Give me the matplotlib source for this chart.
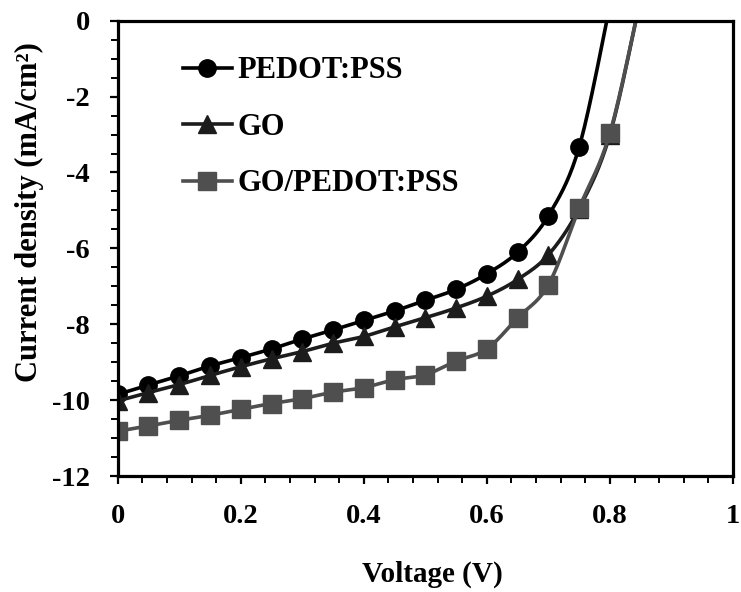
import numpy as np
import matplotlib
matplotlib.use("Agg")
import matplotlib.pyplot as plt
from matplotlib.ticker import MultipleLocator, FixedLocator

plt.rcParams['font.family'] = ['Liberation Serif', 'DejaVu Serif']
plt.rcParams['font.weight'] = 'bold'

# Voltage (V) and current density (mA/cm2)
v_pedot = [0, 0.05, 0.1, 0.15, 0.2, 0.25, 0.3, 0.35, 0.4, 0.45, 0.5, 0.55, 0.6, 0.65, 0.7, 0.75, 0.8]
j_pedot = [-9.85, -9.6, -9.36, -9.1, -8.88, -8.65, -8.39, -8.15, -7.9, -7.65, -7.37, -7.08, -6.67, -6.1, -5.14, -3.33, 0.4]

v_go = [0, 0.05, 0.1, 0.15, 0.2, 0.25, 0.3, 0.35, 0.4, 0.45, 0.5, 0.55, 0.6, 0.65, 0.7, 0.75, 0.8, 0.85]
j_go = [-10.02, -9.8, -9.59, -9.35, -9.12, -8.91, -8.72, -8.5, -8.32, -8.07, -7.83, -7.57, -7.26, -6.82, -6.17, -4.95, -3.0, 0.6]

v_gop = [0, 0.05, 0.1, 0.15, 0.2, 0.25, 0.3, 0.35, 0.4, 0.45, 0.5, 0.55, 0.6, 0.65, 0.7, 0.75, 0.8, 0.85]
j_gop = [-10.82, -10.68, -10.53, -10.4, -10.24, -10.09, -9.96, -9.79, -9.67, -9.46, -9.33, -8.97, -8.65, -7.83, -6.96, -4.94, -2.96, 0.6]

labels = ['PEDOT:PSS', 'GO', 'GO/PEDOT:PSS']
xticks = [0, 0.2, 0.4, 0.6, 0.8, 1.0]
xticklabels = ['0', '0.2', '0.4', '0.6', '0.8', '1']
yticks = [-12, -10, -8, -6, -4, -2, 0]
yticklabels = ['-12', '-10', '-8', '-6', '-4', '-2', '0']


def smooth(x, y, n=20):
    # Bezier smoothing through the points, like a spreadsheet "smoothed line"
    p = np.column_stack([x, y]).astype(float)
    q = np.vstack([p[0], p, p[-1]])
    t = np.linspace(0, 1, n)[:, None]
    segs = []
    for i in range(len(p) - 1):
        p0, p1, p2, p3 = q[i], q[i + 1], q[i + 2], q[i + 3]
        c1 = p1 + (p2 - p0) / 6
        c2 = p2 - (p3 - p1) / 6
        b = ((1 - t) ** 3) * p1 + 3 * ((1 - t) ** 2) * t * c1 + 3 * (1 - t) * t ** 2 * c2 + t ** 3 * p2
        segs.append(b if i == 0 else b[1:])
    s = np.vstack(segs)
    marks = [0] + [k * (n - 1) for k in range(1, len(p))]
    return s[:, 0], s[:, 1], marks


fig = plt.figure(figsize=(7.41, 5.92), dpi=100)
ax = fig.add_axes([0.1588, 0.1959, 0.8304, 0.7691])

series = [
    (v_pedot, j_pedot, 'o', '#000000', '#000000', 12.5),
    (v_go, j_go, '^', '#1c1c1c', '#1c1c1c', 13),
    (v_gop, j_gop, 's', '#4f4f4f', '#4f4f4f', 12.5),
]
for (x, y, m, lc, mc, ms), lab in zip(series, labels):
    sx, sy, marks = smooth(x, y)
    ax.plot(sx, sy, color=lc, lw=2.6, marker=m, markevery=marks, ms=ms,
            mfc=mc, mec=mc, label=lab)

ax.set_xlim(0, 1)
ax.set_ylim(-12, 0)
ax.xaxis.set_major_locator(FixedLocator(xticks))
ax.xaxis.set_minor_locator(MultipleLocator(0.04))
ax.yaxis.set_major_locator(FixedLocator(yticks))
ax.yaxis.set_minor_locator(MultipleLocator(0.5))
ax.set_xticklabels(xticklabels)
ax.set_yticklabels(yticklabels)

for sp in ax.spines.values():
    sp.set_linewidth(2.3)
ax.tick_params(which='major', direction='out', length=6, width=1.6, labelsize=20.5)
ax.tick_params(which='minor', direction='out', length=5, width=1.4)
ax.tick_params(axis='x', which='major', pad=14)
ax.tick_params(axis='y', which='major', pad=14)

ax.set_xlabel('Voltage (V)', fontsize=21, fontweight='bold')
ax.set_ylabel('Current density (mA/cm²)', fontsize=22, fontweight='bold')
ax.xaxis.set_label_coords(0.511, -0.187)
ax.yaxis.set_label_coords(-0.12, 0.58)

ax.legend(loc='upper left', bbox_to_anchor=(0.106, 0.922), frameon=False,
          fontsize=22, handlelength=1.6, handletextpad=0.2, labelspacing=0.9,
          borderpad=0, borderaxespad=0)

fig.savefig('out.png', dpi=100)
